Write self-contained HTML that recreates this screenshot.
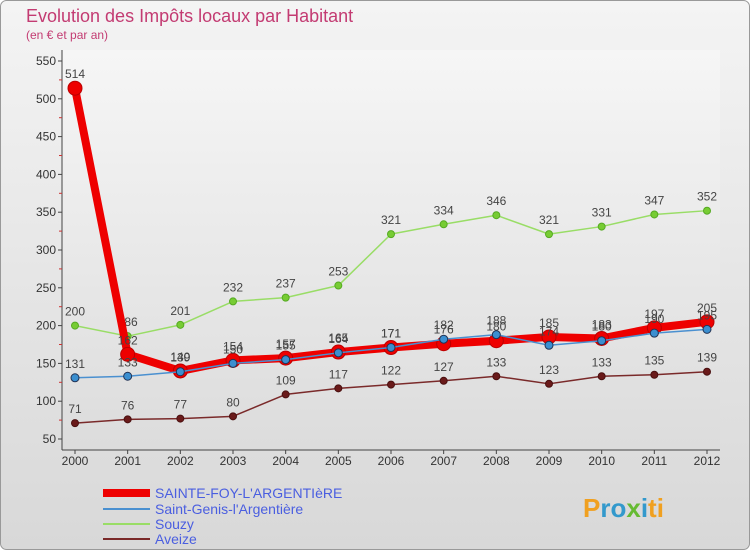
<!DOCTYPE html>
<html><head><meta charset="utf-8"><style>
body{margin:0;width:750px;height:550px;overflow:hidden;font-family:"Liberation Sans",sans-serif;}
</style></head><body>
<svg width="750" height="550" xmlns="http://www.w3.org/2000/svg">
<defs>
<linearGradient id="bg" x1="0" y1="0" x2="0" y2="1"><stop offset="0" stop-color="#f4f4f4"/><stop offset="1" stop-color="#d8d8d8"/></linearGradient>
<linearGradient id="pb" x1="0" y1="0" x2="0" y2="1"><stop offset="0" stop-color="#f6f6f6"/><stop offset="1" stop-color="#dcdcdc"/></linearGradient>
</defs>
<rect x="0.5" y="0.5" width="749" height="549" rx="6" fill="url(#bg)" stroke="#999"/>
<rect x="62" y="50" width="658" height="400" fill="url(#pb)"/>
<text x="26" y="22" font-size="18" fill="#c33b72">Evolution des Impôts locaux par Habitant</text>
<text x="26" y="39" font-size="12" fill="#c33b72">(en € et par an)</text>
<g id="axes"></g>
<g id="series"></g>
<g>
<line x1="103" y1="493" x2="150" y2="493" stroke="#e00" stroke-width="8"/>
<text x="155" y="498" font-size="14" fill="#4a5ee0">SAINTE-FOY-L'ARGENTIèRE</text>
<line x1="103" y1="509" x2="150" y2="509" stroke="#4a90d0" stroke-width="2"/>
<text x="155" y="514" font-size="14" fill="#4a5ee0">Saint-Genis-l'Argentière</text>
<line x1="103" y1="524" x2="150" y2="524" stroke="#99dd66" stroke-width="2"/>
<text x="155" y="529" font-size="14" fill="#4a5ee0">Souzy</text>
<line x1="103" y1="539" x2="150" y2="539" stroke="#7a2a2a" stroke-width="2"/>
<text x="155" y="544" font-size="14" fill="#4a5ee0">Aveize</text>
</g>
<text x="583" y="517" font-size="26" font-weight="bold" fill="#3399cc"><tspan fill="#f0a020">P</tspan><tspan fill="#3399cc">ro</tspan><tspan fill="#66bb33">x</tspan><tspan fill="#3399cc">i</tspan><tspan fill="#f0a020">ti</tspan></text>
</svg>
<script>
const years=[2000,2001,2002,2003,2004,2005,2006,2007,2008,2009,2010,2011,2012];
const yTicks=[50,100,150,200,250,300,350,400,450,500,550];
const sainteFoy=[514,162,140,154,157,165,171,176,180,185,183,197,205];
const saintGenis=[131,133,139,150,155,164,171,182,188,174,180,190,195];
const souzy=[200,186,201,232,237,253,321,334,346,321,331,347,352];
const aveize=[71,76,77,80,109,117,122,127,133,123,133,135,139];
const NS="http://www.w3.org/2000/svg";
function X(i){return 75+i*(707-75)/12;}
function Y(v){return 439-(v-50)*(439-61)/500;}
function mk(tag,attrs,parent){const e=document.createElementNS(NS,tag);for(const k in attrs)e.setAttribute(k,attrs[k]);parent.appendChild(e);return e;}
const ax=document.getElementById('axes');
const yl=mk('line',{x1:62,y1:50,x2:62,y2:450,stroke:'#444'},ax);


const xl=mk('line',{x1:62,y1:450,x2:720,y2:450,stroke:'#444'},ax);


yTicks.forEach(v=>{
  const t=mk('text',{x:56,y:Y(v)+4,'font-size':12,fill:'#333','text-anchor':'end'},ax);t.textContent=v;
  
  
  mk('line',{x1:58,y1:Y(v),x2:62,y2:Y(v),stroke:'#444'},ax);
  if(v<550)mk('line',{x1:59,y1:Y(v+25),x2:62,y2:Y(v+25),stroke:'#c33'},ax);
});
years.forEach((yr,i)=>{
  const t=mk('text',{x:X(i),y:465,'font-size':12,fill:'#333','text-anchor':'middle'},ax);t.textContent=yr;
  
  
  mk('line',{x1:X(i),y1:450,x2:X(i),y2:454,stroke:'#444'},ax);
});
const sg=document.getElementById('series');
function draw(data,name,color,w,r,fill,stroke){
  const g=mk('g',{},sg);
  
  
  const pl=mk('polyline',{points:data.map((v,i)=>X(i)+','+Y(v)).join(' '),fill:'none',stroke:color,'stroke-width':w,'stroke-linejoin':'round'},g);
  
  
  data.forEach((v,i)=>{
    const c=mk('circle',{cx:X(i),cy:Y(v),r:r,fill:fill,stroke:stroke,'stroke-width':1},g);
    
    
    const t=mk('text',{x:X(i),y:Y(v)-10,'font-size':12,fill:'#444','text-anchor':'middle'},g);t.textContent=v;
    
    
  });
}
draw(aveize,'aveize','#7a2a2a',1.5,3.5,'#6a1a1a','#4a1010');
draw(souzy,'souzy','#99dd66',1.5,3.5,'#77cc33','#55aa22');
draw(sainteFoy,'sainte-foy','#ee0000',8,7,'#ee0000','#b00');
draw(saintGenis,'saint-genis','#4a90d0',1.5,4,'#3b8fd0','#235');
</script>
</body></html>
